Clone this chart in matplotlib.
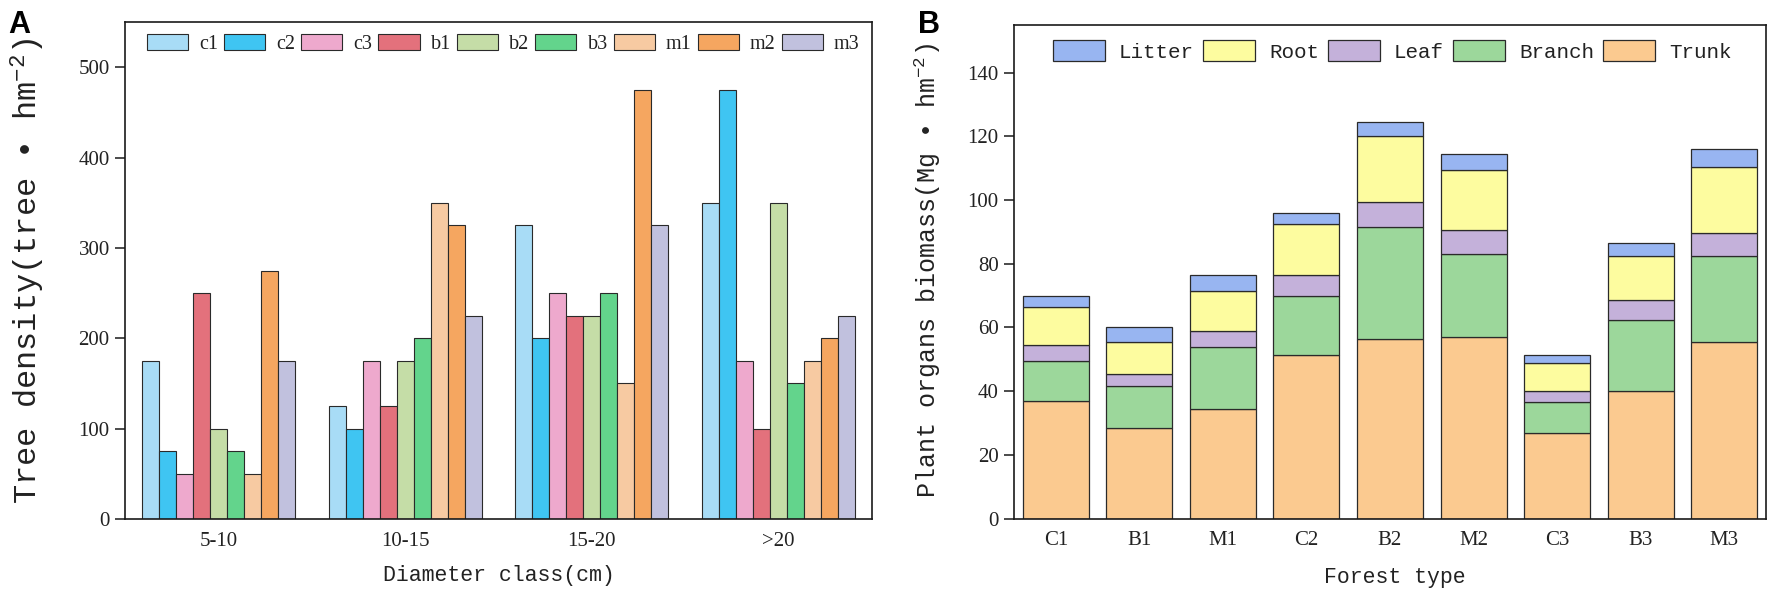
import matplotlib
matplotlib.use('Agg')
import matplotlib.pyplot as plt
import numpy as np
from matplotlib.font_manager import FontProperties

# ---------------- Data: panel A ----------------
diam_classes = ['5-10', '10-15', '15-20', '>20']
c1 = [175, 125, 325, 350]
c2 = [75, 100, 200, 475]
c3 = [50, 175, 250, 175]
b1 = [250, 125, 225, 100]
b2 = [100, 175, 225, 350]
b3 = [75, 200, 250, 150]
m1 = [50, 350, 150, 175]
m2 = [275, 325, 475, 200]
m3 = [175, 225, 325, 225]
stand_names = ['c1', 'c2', 'c3', 'b1', 'b2', 'b3', 'm1', 'm2', 'm3']
stand_colors = ['#a8dcf6', '#3fc5f2', '#eea9cd', '#e3717c', '#c5dda7',
                '#63d48c', '#f7caa2', '#f5a660', '#c1c1de']

# ---------------- Data: panel B ----------------
forest_types = ['C1', 'B1', 'M1', 'C2', 'B2', 'M2', 'C3', 'B3', 'M3']
trunk  = [37.0, 28.5, 34.5, 51.5, 56.5, 57.0, 27.0, 40.0, 55.5]
branch = [12.5, 13.0, 19.5, 18.5, 35.0, 26.0, 9.5, 22.5, 27.0]
leaf   = [5.0, 4.0, 5.0, 6.5, 8.0, 7.5, 3.5, 6.0, 7.0]
root   = [12.0, 10.0, 12.5, 16.0, 20.5, 19.0, 9.0, 14.0, 21.0]
litter = [3.5, 4.5, 5.0, 3.5, 4.5, 5.0, 2.5, 4.0, 5.5]
organ_names = ['Trunk', 'Branch', 'Leaf', 'Root', 'Litter']
organ_colors = ['#fbca90', '#9cd79b', '#c4b1da', '#fdfc9f', '#98b5f1']

# ---------------- Style ----------------
plt.rcParams['mathtext.fontset'] = 'custom'
plt.rcParams['mathtext.rm'] = 'Liberation Mono'
plt.rcParams['mathtext.it'] = 'Liberation Mono'
plt.rcParams['mathtext.bf'] = 'Liberation Mono'

W, H = 1772, 596
fig = plt.figure(figsize=(W / 100, H / 100), dpi=100)

def fx(px):
    return px / W

def fy(py):
    return 1 - py / H

edge = '#2a2a2a'
txtc = '#222222'
tick_font = FontProperties(family=['Liberation Serif', 'DejaVu Serif'], size=15)
mono = ['Liberation Mono', 'DejaVu Sans Mono', 'DejaVu Sans']

axA = fig.add_axes([fx(125), fy(519), fx(872) - fx(125), fy(22) - fy(519)])
axB = fig.add_axes([fx(1014), fy(518.7), fx(1766) - fx(1014), fy(24.7) - fy(518.7)])

# ---------------- Panel A ----------------
series = [c1, c2, c3, b1, b2, b3, m1, m2, m3]
x = np.arange(len(diam_classes))
w = 0.091
handles = []
for i, (vals, name, col) in enumerate(zip(series, stand_names, stand_colors)):
    bc = axA.bar(x + (i - 4) * w, vals, width=w, color=col, edgecolor=edge,
                 linewidth=0.8, label=name, zorder=2)
    handles.append(bc)
axA.set_xlim(-0.5, 3.5)
axA.set_ylim(0, 550)
axA.set_yticks([0, 100, 200, 300, 400, 500])
axA.set_xticks(x)
axA.set_xticklabels(diam_classes)
axA.legend(handles=handles, labels=stand_names, ncol=9, loc='center left',
           bbox_to_anchor=(22 / 747, 0.956), frameon=False, borderpad=0,
           borderaxespad=0, handlelength=2.04, handleheight=0.9,
           handletextpad=0.55, columnspacing=0.3,
           prop=FontProperties(family=['Liberation Serif', 'DejaVu Serif'], size=14.5),
           labelcolor=txtc)

# ---------------- Panel B ----------------
xb = np.arange(len(forest_types))
bottom = np.zeros(len(forest_types))
bhandles = {}
for vals, name, col in zip([trunk, branch, leaf, root, litter], organ_names, organ_colors):
    bc = axB.bar(xb, vals, width=0.79, bottom=bottom, color=col, edgecolor=edge,
                 linewidth=0.9, label=name, zorder=2)
    bhandles[name] = bc
    bottom = bottom + np.array(vals)
axB.set_xlim(-0.5, 8.5)
axB.set_ylim(0, 155)
axB.set_yticks([0, 20, 40, 60, 80, 100, 120, 140])
axB.set_xticks(xb)
axB.set_xticklabels(forest_types)
leg_order = ['Litter', 'Root', 'Leaf', 'Branch', 'Trunk']
axB.legend(handles=[bhandles[n] for n in leg_order], labels=leg_order, ncol=5,
           loc='center left', bbox_to_anchor=(39 / 752, 0.947), frameon=False,
           borderpad=0, borderaxespad=0, handlelength=2.5, handleheight=1.15,
           handletextpad=0.67, columnspacing=0.43,
           prop=FontProperties(family=mono, size=15), labelcolor=txtc)

for ax in (axA, axB):
    for sp in ax.spines.values():
        sp.set_linewidth(1.2)
        sp.set_color('#1a1a1a')
    ax.tick_params(axis='y', direction='out', length=7, width=1.1, pad=4,
                   colors='#1a1a1a', labelcolor=txtc)
    ax.tick_params(axis='x', length=0, pad=9, labelcolor=txtc)
    for lab in ax.get_xticklabels() + ax.get_yticklabels():
        lab.set_fontproperties(tick_font)

# ---------------- Labels ----------------
fig.text(fx(28), fy(271), 'Tree density(tree \u2022 hm$^{-2}$)', rotation=90,
         ha='center', va='center', family=mono, size=23, color=txtc)
fig.text(fx(498.5), fy(575), 'Diameter class(cm)', ha='center', va='center',
         family=mono, size=15.5, color=txtc)
fig.text(fx(928), fy(271), 'Plant organs biomass(Mg \u2022 hm$^{-2}$)', rotation=90,
         ha='center', va='center', family=mono, size=18, color=txtc)
fig.text(fx(1395), fy(578), 'Forest type', ha='center', va='center',
         family=mono, size=15.5, color=txtc)

fig.text(fx(8), fy(10), 'A', ha='left', va='top', weight='bold', size=22,
         family=['Liberation Sans', 'DejaVu Sans'], color='black')
fig.text(fx(918), fy(10), 'B', ha='left', va='top', weight='bold', size=22,
         family=['Liberation Sans', 'DejaVu Sans'], color='black')

fig.savefig('out.png', dpi=100)
